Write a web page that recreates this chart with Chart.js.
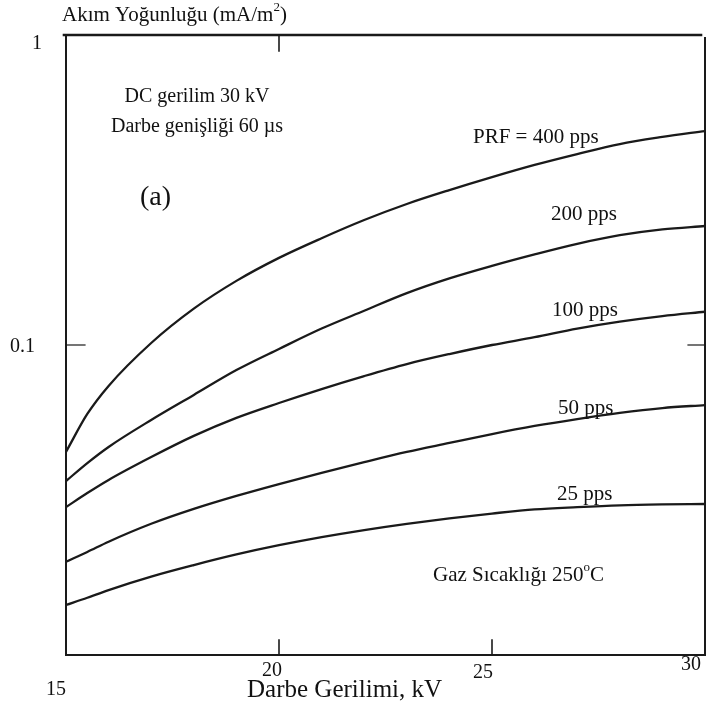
<!DOCTYPE html>
<html>
<head>
<meta charset="utf-8">
<script src="https://cdn.jsdelivr.net/npm/chart.js@4/dist/chart.umd.min.js"></script>
<style>
  html, body { margin: 0; padding: 0; background: #ffffff; }
  #wrap { width: 710px; height: 711px; }
</style>
</head>
<body>
<div id="wrap"><canvas id="c" width="710" height="711"></canvas></div>
<script>
// Pulse voltage (kV)
const kv = [15, 15.5, 16, 17, 18, 19, 20, 21, 22, 23, 24, 25, 26, 27, 28, 29, 30];

// Current density (mA/m²) for each pulse repetition frequency
const prf400 = [0.0452, 0.0599, 0.0738, 0.1015, 0.131, 0.161, 0.191, 0.221, 0.253, 0.285, 0.316, 0.348, 0.381, 0.413, 0.445, 0.469, 0.49];
const prf200 = [0.0364, 0.0416, 0.0469, 0.0573, 0.069, 0.083, 0.0971, 0.113, 0.129, 0.147, 0.164, 0.18, 0.196, 0.212, 0.226, 0.236, 0.242];
const prf100 = [0.030, 0.0333, 0.0367, 0.0435, 0.0509, 0.0582, 0.065, 0.0721, 0.0794, 0.0868, 0.0935, 0.100, 0.106, 0.113, 0.119, 0.124, 0.128];
const prf50  = [0.020, 0.0215, 0.0232, 0.0265, 0.0296, 0.0326, 0.0356, 0.0387, 0.0419, 0.0452, 0.0483, 0.0516, 0.0548, 0.0577, 0.0604, 0.0626, 0.064];
const prf25  = [0.0145, 0.0153, 0.0162, 0.0179, 0.0195, 0.0211, 0.0226, 0.024, 0.0253, 0.0265, 0.0276, 0.0286, 0.0295, 0.0300, 0.0304, 0.0306, 0.0307];

// Axis tick values and labels
const xTicks = [15, 20, 25, 30];
const xTickLabels = ['15', '20', '25', '30'];
const yTicks = [1, 0.1];
const yTickLabels = ['1', '0.1'];

const SERIF = '"Liberation Serif", "Times New Roman", serif';
const INK = '#1a1a1a';

function series(values) {
  return {
    data: kv.map((x, i) => ({ x: x, y: values[i] })),
    borderColor: INK,
    borderWidth: 2.3,
    pointRadius: 0,
    cubicInterpolationMode: 'monotone',
    fill: false
  };
}

// Text with optional superscript runs
function drawRich(ctx, parts, x, y, size, align) {
  const supSize = Math.round(size * 0.62);
  let total = 0;
  parts.forEach(p => {
    ctx.font = (p.sup ? supSize : size) + 'px ' + SERIF;
    p.w = ctx.measureText(p.t).width;
    total += p.w;
  });
  let cx = align === 'center' ? x - total / 2 : x;
  ctx.textBaseline = 'middle';
  ctx.textAlign = 'left';
  parts.forEach(p => {
    ctx.font = (p.sup ? supSize : size) + 'px ' + SERIF;
    ctx.fillText(p.t, cx, p.sup ? y - size * 0.33 : y);
    cx += p.w;
  });
}

const framePlugin = {
  id: 'frame',
  afterDatasetsDraw(chart) {
    const ctx = chart.ctx;
    const a = chart.chartArea;
    const xs = chart.scales.x, ys = chart.scales.y;
    ctx.save();
    ctx.strokeStyle = INK;
    ctx.lineCap = 'square';

    // plot frame
    ctx.lineWidth = 2;
    ctx.beginPath();
    ctx.moveTo(a.left, a.top); ctx.lineTo(a.left, a.bottom);
    ctx.lineTo(a.right, a.bottom); ctx.lineTo(a.right, a.top + 3);
    ctx.stroke();
    ctx.lineWidth = 2.6;
    ctx.beginPath();
    ctx.moveTo(a.left - 2, a.top); ctx.lineTo(a.right - 4, a.top);
    ctx.stroke();

    // inward ticks
    ctx.lineWidth = 1.6;
    xTicks.slice(1, 3).forEach(v => {
      const px = xs.getPixelForValue(v);
      ctx.beginPath(); ctx.moveTo(px, a.bottom); ctx.lineTo(px, a.bottom - 15); ctx.stroke();
    });
    const topTick = xs.getPixelForValue(xTicks[1]);
    ctx.beginPath(); ctx.moveTo(topTick, a.top); ctx.lineTo(topTick, a.top + 16); ctx.stroke();
    const py = ys.getPixelForValue(yTicks[1]);
    ctx.lineWidth = 1.2;
    ctx.beginPath(); ctx.moveTo(a.left, py); ctx.lineTo(a.left + 19, py); ctx.stroke();
    ctx.beginPath(); ctx.moveTo(a.right, py); ctx.lineTo(a.right - 17, py); ctx.stroke();

    // tick labels
    ctx.fillStyle = '#111';
    ctx.textAlign = 'center';
    ctx.textBaseline = 'middle';
    ctx.font = '20px ' + SERIF;
    const xLabelDx = [-10, -7, -9, -14];
    const xLabelY = [690, 671, 673, 665];
    xTicks.forEach((v, i) => {
      ctx.fillText(xTickLabels[i], xs.getPixelForValue(v) + xLabelDx[i], xLabelY[i]);
    });
    ctx.textAlign = 'right';
    ctx.fillText(yTickLabels[0], 42, ys.getPixelForValue(yTicks[0]) + 9);
    ctx.fillText(yTickLabels[1], 35, ys.getPixelForValue(yTicks[1]) + 2);

    // axis titles
    drawRich(ctx, [{ t: 'Akım Yoğunluğu (mA/m' }, { t: '2', sup: true }, { t: ')' }], 62, 15, 21, 'left');
    drawRich(ctx, [{ t: 'Darbe Gerilimi, kV' }], 247, 690, 25, 'left');

    // annotations
    drawRich(ctx, [{ t: 'DC gerilim 30 kV' }], 197, 97, 20, 'center');
    drawRich(ctx, [{ t: 'Darbe genişliği 60 µs' }], 197, 127, 20, 'center');
    drawRich(ctx, [{ t: '(a)' }], 140, 198, 28, 'left');
    drawRich(ctx, [{ t: 'PRF = 400 pps' }], 473, 137, 21, 'left');
    drawRich(ctx, [{ t: '200 pps' }], 551, 214, 21, 'left');
    drawRich(ctx, [{ t: '100 pps' }], 552, 310, 21, 'left');
    drawRich(ctx, [{ t: '50 pps' }], 558, 408, 21, 'left');
    drawRich(ctx, [{ t: '25 pps' }], 557, 494, 21, 'left');
    drawRich(ctx, [{ t: 'Gaz Sıcaklığı 250' }, { t: 'o', sup: true }, { t: 'C' }], 433, 575, 21, 'left');
    ctx.restore();
  }
};

new Chart(document.getElementById('c'), {
  type: 'line',
  data: {
    datasets: [series(prf400), series(prf200), series(prf100), series(prf50), series(prf25)]
  },
  options: {
    responsive: false,
    animation: false,
    layout: { padding: { left: 66, top: 35, right: 5, bottom: 56 } },
    plugins: { legend: { display: false }, tooltip: { enabled: false } },
    scales: {
      x: { type: 'linear', min: 15, max: 30, display: false },
      y: { type: 'logarithmic', min: 0.01, max: 1, display: false }
    }
  },
  plugins: [framePlugin]
});
</script>
</body>
</html>
